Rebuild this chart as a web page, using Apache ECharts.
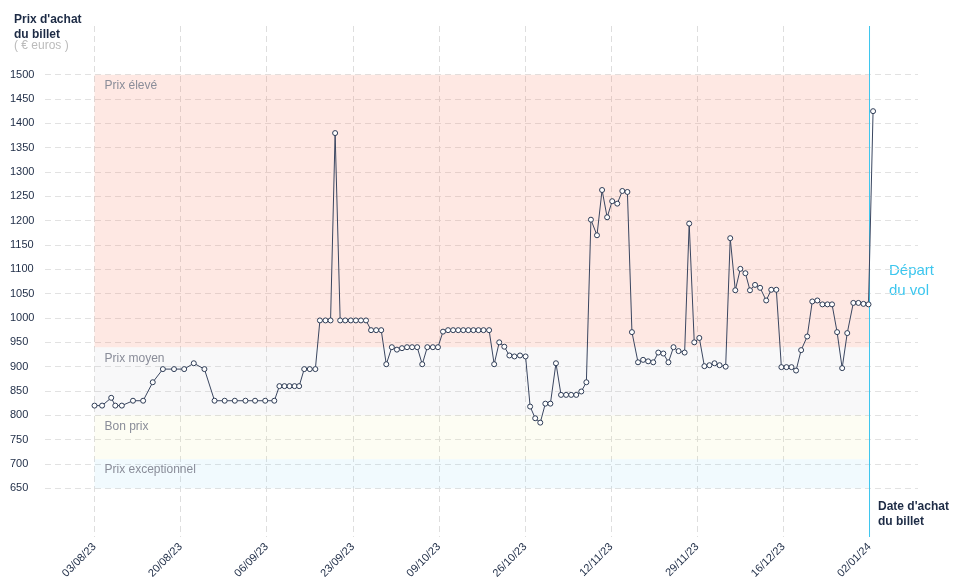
<!DOCTYPE html>
<html>
<head>
<meta charset="utf-8">
<script src="https://cdn.jsdelivr.net/npm/echarts@6/dist/echarts.min.js"></script>
<style>html,body{margin:0;padding:0;background:#fff;}#c{width:958px;height:585px;}</style>
</head>
<body>
<div id="c"></div>
<script>
// x tick labels (every 17 days from 03/08/23)
const tickLabels = ['03/08/23','20/08/23','06/09/23','23/09/23','09/10/23','26/10/23','12/11/23','29/11/23','16/12/23','02/01/24'];
// days since 03/08/23
const dayOffsets = [0.0,1.5,3.3,4.1,5.4,7.6,9.6,11.5,13.5,15.7,17.7,19.6,21.7,23.7,25.7,27.7,29.8,31.7,33.7,35.5,
36.5,37.5,38.5,39.5,40.4,41.4,42.5,43.6,44.5,45.6,46.6,47.5,48.5,49.5,50.6,51.6,52.6,53.6,54.6,55.6,
56.6,57.6,58.7,59.7,60.7,61.7,62.7,63.7,64.7,65.7,66.8,67.8,68.8,69.8,70.8,71.8,72.8,73.8,74.8,75.8,
76.8,77.9,78.9,79.9,80.9,81.9,82.9,84.0,85.1,86.0,87.0,88.0,89.0,90.0,91.1,92.1,93.1,94.1,95.1,96.1,
97.1,98.0,99.2,100.2,101.2,102.2,103.2,104.2,105.2,106.1,107.3,108.3,109.3,110.3,111.3,112.3,113.3,114.3,115.3,116.5,
117.4,118.4,119.4,120.4,121.4,122.4,123.4,124.6,125.5,126.5,127.5,128.5,129.4,130.4,131.4,132.6,133.6,134.6,135.6,136.6,
137.6,138.5,139.5,140.7,141.7,142.7,143.7,144.7,145.6,146.6,147.6,148.6,149.8,150.8,151.8,152.8,153.7];
// ticket prices (€)
const prices = [820,820,836,820,820,830,830,868,895,895,895,907,895,830,830,830,830,830,830,830,
860,860,860,860,860,895,895,895,995,995,995,1380,995,995,995,995,995,995,975,975,
975,905,940,935,938,940,940,940,905,940,940,940,972,975,975,975,975,975,975,975,
975,975,905,950,941,923,921,923,921,818,794,785,824,824,907,842,842,842,842,849,
868,1202,1170,1263,1207,1240,1235,1261,1259,971,909,914,911,909,929,927,909,940,932,929,
1194,950,959,901,903,907,903,900,1164,1057,1101,1092,1057,1068,1062,1036,1058,1058,899,899,
899,892,934,962,1034,1036,1028,1028,1028,971,897,969,1031,1031,1029,1028,1425];
// price bands
const bandNames = ['Prix élevé','Prix moyen','Bon prix','Prix exceptionnel'];
const bandLow  = [940, 800, 710, 650];
const bandHigh = [1500, 940, 800, 710];
const bandColors = ['rgba(248,120,90,0.17)','rgba(200,200,212,0.13)','rgba(240,240,150,0.11)','rgba(150,220,245,0.13)'];
const departureDay = 153;
const yMin = 550, yMax = 1600;

const data = dayOffsets.map((d, i) => [d, prices[i]]);
const font = '"Liberation Sans", Arial, sans-serif';
const dark = '#1d2b45';
const cyan = '#3cc6ee';

const chart = echarts.init(document.getElementById('c'));
chart.setOption({
  animation: false,
  textStyle: { fontFamily: font },
  grid: [
    { left: 45, right: 40, top: 74.7, bottom: 96.7 },
    { left: 94.5, right: 40, top: 26, bottom: 48 }
  ],
  xAxis: [
    { gridIndex: 0, type: 'value', min: 0, max: 1, show: false },
    { gridIndex: 1, type: 'value', min: 0, max: 162.57, interval: 17,
      axisLine: { show: false }, axisTick: { show: false },
      axisLabel: { rotate: 45, fontSize: 11, color: dark, margin: 8, fontFamily: font, showMaxLabel: false,
        formatter: v => (Math.abs(v / 17 - Math.round(v / 17)) < 1e-6 ? (tickLabels[Math.round(v / 17)] || '') : '') },
      splitLine: { show: true, showMaxLine: false, lineStyle: { color: '#dedede', type: [6, 4], width: 1 } } }
  ],
  yAxis: [
    { gridIndex: 0, type: 'value', min: 650, max: 1500, interval: 50,
      axisLine: { show: false }, axisTick: { show: false },
      axisLabel: { align: 'left', margin: 35, fontSize: 11, color: dark, padding: [0, 0, 8, 0], fontFamily: font,
        formatter: v => String(v) },
      splitLine: { show: true, lineStyle: { color: '#e2e2e2', type: [6, 4], width: 1 } } },
    { gridIndex: 1, type: 'value', min: yMin, max: yMax, show: false, splitLine: { show: false } }
  ],
  series: [{
    type: 'line',
    xAxisIndex: 1, yAxisIndex: 1,
    data: [[departureDay, yMin], [departureDay, yMax]],
    symbol: 'none',
    silent: true,
    lineStyle: { color: cyan, width: 1 },
    z: 2
  }, {
    type: 'line',
    xAxisIndex: 1, yAxisIndex: 1,
    data: data,
    showAllSymbol: true,
    symbol: 'circle',
    symbolSize: 5,
    lineStyle: { color: '#3a4660', width: 1 },
    itemStyle: { color: '#ffffff', borderColor: '#2d3b55', borderWidth: 1 },
    z: 3,
    markArea: {
      silent: true,
      data: bandNames.map((n, i) => [
        { name: n, xAxis: 0, yAxis: bandHigh[i], itemStyle: { color: bandColors[i] } },
        { xAxis: departureDay, yAxis: bandLow[i] }
      ]),
      label: { show: true, position: 'insideTopLeft', distance: 5, offset: [5, 0],
        color: '#8a8d99', fontSize: 12, fontFamily: font }
    }
  }],
  graphic: [
    { type: 'text', left: 14, top: 12, style: { text: "Prix d'achat\ndu billet", font: 'bold 12px ' + font, fill: dark, lineHeight: 15 } },
    { type: 'text', left: 14, top: 40, style: { text: '( € euros )', font: '12px ' + font, fill: '#bbbbbb' } },
    { type: 'text', left: 889, top: 261, style: { text: 'Départ\ndu vol', font: '15px ' + font, fill: cyan, lineHeight: 20 } },
    { type: 'text', left: 878, top: 499, style: { text: "Date d'achat\ndu billet", font: 'bold 12px ' + font, fill: dark, lineHeight: 15 } }
  ]
});
</script>
</body>
</html>
